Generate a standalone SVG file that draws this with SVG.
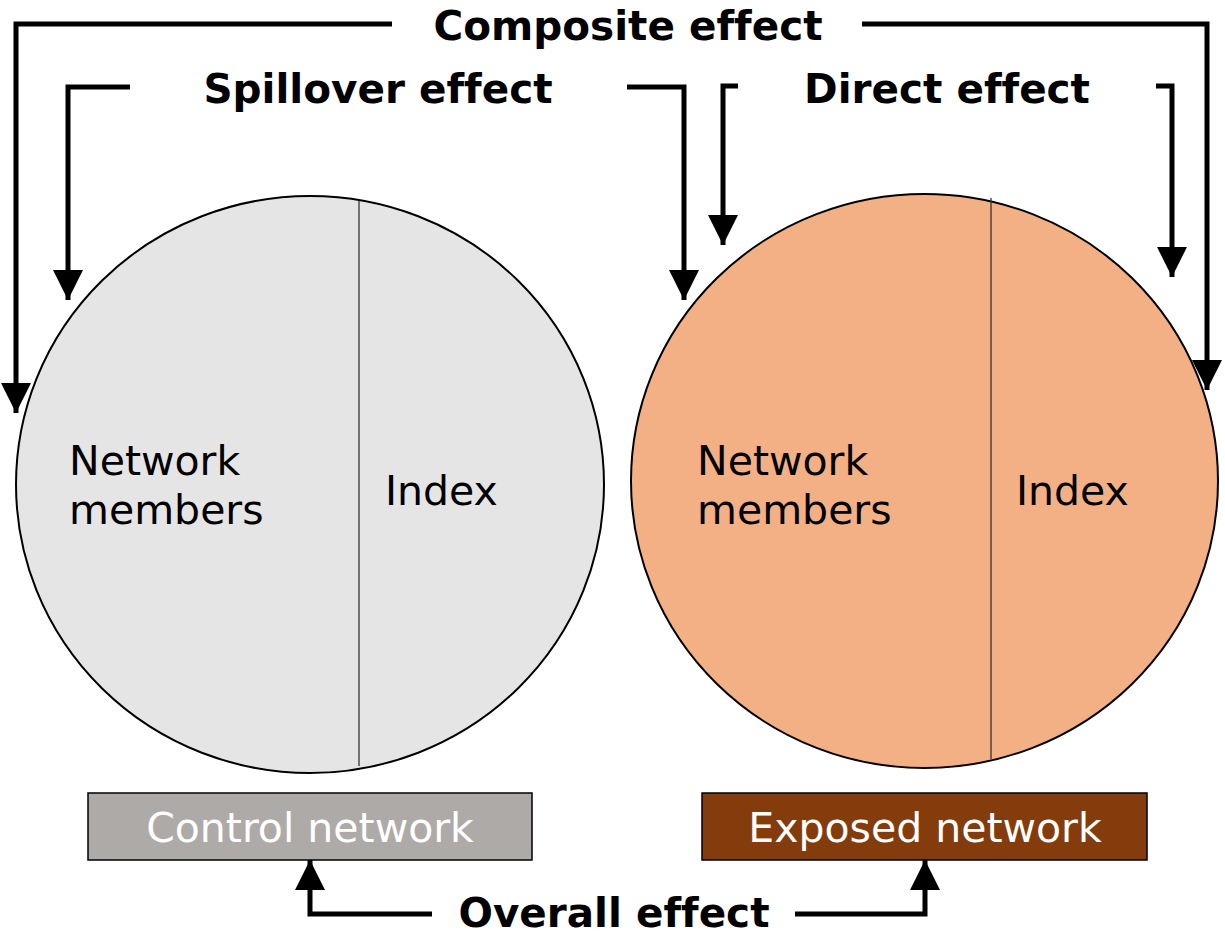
<svg xmlns="http://www.w3.org/2000/svg" width="1225" height="936" viewBox="0 0 1225 936">
<style>
text{font-variant-ligatures:none}
.lbl{font-family:"DejaVu Sans",Verdana,sans-serif;font-size:40.5px;font-weight:bold;fill:#000}
.in{font-family:"DejaVu Sans",Verdana,sans-serif;font-size:41px;fill:#000}
.bx{font-family:"DejaVu Sans",Verdana,sans-serif;font-size:41px;fill:#fff;text-anchor:middle}
.conn{fill:none;stroke:#000;stroke-width:5}
.div{stroke:#333;stroke-width:1.3}
</style>
<defs>
<marker id="ah" viewBox="0 0 10 10" refX="10" refY="5" markerWidth="6" markerHeight="6" markerUnits="strokeWidth" orient="auto">
<path d="M0,0 L10,5 L0,10 z" fill="#000"/>
</marker>
</defs>
<rect width="1225" height="936" fill="#fff"/>
<g id="control-circle">
<ellipse cx="310" cy="484.5" rx="294" ry="288.5" fill="#e5e5e5" stroke="#000" stroke-width="2"/>
<line class="div" x1="359" y1="201" x2="359" y2="766"/>
<text class="in" x="69" y="475">Network</text>
<text class="in" x="69" y="524">members</text>
<text class="in" x="385" y="505">Index</text>
</g>
<g id="exposed-circle">
<ellipse cx="924.5" cy="481" rx="293.5" ry="287" fill="#f3b085" stroke="#000" stroke-width="2"/>
<line class="div" x1="991" y1="198" x2="991" y2="759"/>
<text class="in" x="697" y="475">Network</text>
<text class="in" x="697" y="524">members</text>
<text class="in" x="1016" y="505">Index</text>
</g>
<g id="control-box">
<rect x="88" y="793" width="444" height="67" fill="#aeaaa8" stroke="#000" stroke-width="1.5"/>
<text class="bx" x="310" y="842">Control network</text>
</g>
<g id="exposed-box">
<rect x="702" y="793" width="445" height="67" fill="#843c0c" stroke="#000" stroke-width="1.5"/>
<text class="bx" x="925" y="842">Exposed network</text>
</g>
<g id="labels">
<text class="lbl" x="628" y="40" text-anchor="middle">Composite effect</text>
<text class="lbl" x="378" y="103" text-anchor="middle">Spillover effect</text>
<text class="lbl" x="947" y="103" text-anchor="middle">Direct effect</text>
<text class="lbl" x="614" y="927" text-anchor="middle">Overall effect</text>
</g>
<g id="connectors">
<path class="conn" d="M392,24 H16 V413" marker-end="url(#ah)"/>
<path class="conn" d="M862,24 H1207 V390" marker-end="url(#ah)"/>
<path class="conn" d="M130,87 H68 V300" marker-end="url(#ah)"/>
<path class="conn" d="M627,87 H684 V300" marker-end="url(#ah)"/>
<path class="conn" d="M738,86 H723 V245" marker-end="url(#ah)"/>
<path class="conn" d="M1156,86 H1172 V277" marker-end="url(#ah)"/>
<path class="conn" d="M432,914 H310 V860" marker-end="url(#ah)"/>
<path class="conn" d="M795,914 H925 V860" marker-end="url(#ah)"/>
</g>
</svg>
